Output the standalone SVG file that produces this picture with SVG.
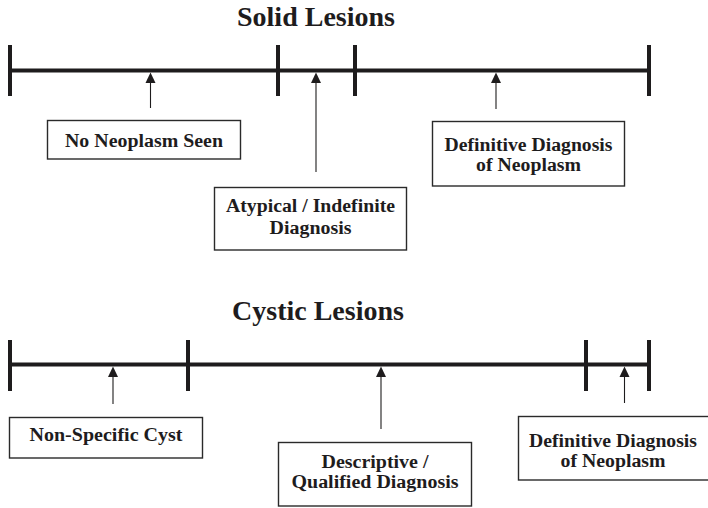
<svg xmlns="http://www.w3.org/2000/svg" width="708" height="508" viewBox="0 0 708 508">
<style>
  text { font-family: "Liberation Serif", "Times New Roman", serif; font-weight: bold; fill: #1e1c1d; text-anchor: middle; }
  .title { font-size: 28px; }
  .lbl { font-size: 18px; }
  .bar { stroke: #1e1c1d; stroke-width: 4; fill: none; }
  .tick { stroke: #1e1c1d; stroke-width: 4; fill: none; }
  .box { fill: #fff; stroke: #2a2a2a; stroke-width: 1.4; }
  .arr { stroke: #1e1c1d; stroke-width: 1.1; fill: none; }
  .head { fill: #1e1c1d; }
</style>
<rect width="708" height="508" fill="#fff"/>

<g id="solid-title"><text class="title" x="316" y="26">Solid Lesions</text></g>
<g id="solid-scale">
  <line class="bar" x1="10" y1="70.5" x2="649" y2="70.5"/>
  <line class="tick" x1="10" y1="45" x2="10" y2="96"/>
  <line class="tick" x1="278" y1="45" x2="278" y2="96"/>
  <line class="tick" x1="355" y1="45" x2="355" y2="96"/>
  <line class="tick" x1="649" y1="45" x2="649" y2="96"/>
</g>

<g id="cystic-title"><text class="title" x="318" y="320">Cystic Lesions</text></g>
<g id="cystic-scale">
  <line class="bar" x1="10" y1="364.5" x2="649" y2="364.5"/>
  <line class="tick" x1="10" y1="340" x2="10" y2="391"/>
  <line class="tick" x1="188" y1="340" x2="188" y2="391"/>
  <line class="tick" x1="586" y1="340" x2="586" y2="391"/>
  <line class="tick" x1="649" y1="340" x2="649" y2="391"/>
</g>

<g id="connectors">
  <line class="arr" x1="150.5" y1="108" x2="150.5" y2="82"/>
  <polygon class="head" points="150.5,72.5 145.5,83 155.5,83"/>
  <line class="arr" x1="316" y1="172" x2="316" y2="82"/>
  <polygon class="head" points="316,72.5 311,83 321,83"/>
  <line class="arr" x1="496" y1="109" x2="496" y2="82"/>
  <polygon class="head" points="496,72.5 491,83 501,83"/>

  <line class="arr" x1="113" y1="404" x2="113" y2="376"/>
  <polygon class="head" points="113,366.5 108,377 118,377"/>
  <line class="arr" x1="381" y1="429" x2="381" y2="376"/>
  <polygon class="head" points="381,366.5 376,377 386,377"/>
  <line class="arr" x1="624.5" y1="403" x2="624.5" y2="376"/>
  <polygon class="head" points="624.5,366.5 619.5,377 629.5,377"/>
</g>

<g id="no-neoplasm">
  <rect class="box" x="47.5" y="120.5" width="193" height="38.5"/>
  <text class="lbl" x="144" y="147" textLength="158" lengthAdjust="spacingAndGlyphs">No Neoplasm Seen</text>
</g>
<g id="atypical">
  <rect class="box" x="214.5" y="187.5" width="192" height="62.5"/>
  <text class="lbl" x="310.5" y="212" textLength="169" lengthAdjust="spacingAndGlyphs">Atypical / Indefinite</text>
  <text class="lbl" x="310.5" y="234" textLength="82" lengthAdjust="spacingAndGlyphs">Diagnosis</text>
</g>
<g id="definitive-solid">
  <rect class="box" x="432.5" y="121.5" width="192" height="64.5"/>
  <text class="lbl" x="528.5" y="151" textLength="168" lengthAdjust="spacingAndGlyphs">Definitive Diagnosis</text>
  <text class="lbl" x="528.5" y="171" textLength="105" lengthAdjust="spacingAndGlyphs">of Neoplasm</text>
</g>

<g id="non-specific">
  <rect class="box" x="9.5" y="417.5" width="193" height="40.5"/>
  <text class="lbl" x="106" y="441" textLength="153" lengthAdjust="spacingAndGlyphs">Non-Specific Cyst</text>
</g>
<g id="descriptive">
  <rect class="box" x="278.5" y="442.5" width="193" height="63.5"/>
  <text class="lbl" x="375" y="468" textLength="107" lengthAdjust="spacingAndGlyphs">Descriptive /</text>
  <text class="lbl" x="375" y="488" textLength="167" lengthAdjust="spacingAndGlyphs">Qualified Diagnosis</text>
</g>
<g id="definitive-cystic">
  <rect class="box" x="518.5" y="416.5" width="194" height="63.5"/>
  <text class="lbl" x="613" y="447" textLength="168" lengthAdjust="spacingAndGlyphs">Definitive Diagnosis</text>
  <text class="lbl" x="613" y="467" textLength="105" lengthAdjust="spacingAndGlyphs">of Neoplasm</text>
</g>
</svg>
